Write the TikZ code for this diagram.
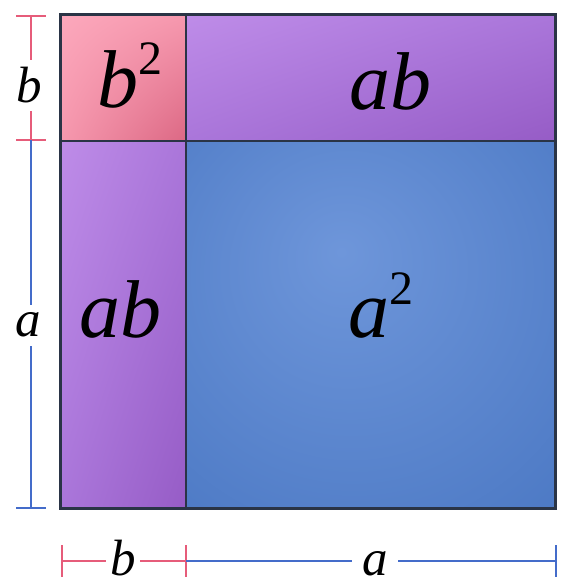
\documentclass[tikz,border=0pt]{standalone}
\usepackage{fontspec}
\setmainfont{Liberation Serif}
\usetikzlibrary{shadings}
\definecolor{pinkL}{RGB}{252,168,188}
\definecolor{pinkM}{RGB}{246,152,174}
\definecolor{pinkD}{RGB}{220,104,132}
\definecolor{purL}{RGB}{190,140,232}
\definecolor{purM}{RGB}{170,118,218}
\definecolor{purD}{RGB}{150,92,198}
\definecolor{bluC}{RGB}{110,150,218}
\definecolor{bluE}{RGB}{55,103,183}
\definecolor{edgec}{RGB}{42,52,70}
\definecolor{dimpink}{RGB}{230,92,122}
\definecolor{dimblue}{RGB}{68,108,202}
\pgfdeclareradialshading{bluerad}{\pgfpoint{-4bp}{10bp}}{color(0bp)=(bluC); color(66bp)=(bluE)}
\newcommand\supnum[1]{\raisebox{33pt}{\fontsize{48}{48}\selectfont\upshape #1}}
\begin{document}
\begin{tikzpicture}[x=1pt,y=1pt,
  inlbl/.style={inner sep=0pt, font=\fontsize{82}{82}\selectfont\itshape},
  dimlbl/.style={fill=white, font=\fontsize{51}{51}\selectfont\itshape},
  pinkline/.style={draw=dimpink, line width=1.6pt},
  blueline/.style={draw=dimblue, line width=1.6pt},
  divline/.style={draw=edgec, line width=1.8pt},
  outline/.style={draw=edgec, line width=3pt}]
\useasboundingbox (0,0) rectangle (571,586);
% regions
\shade[upper left=pinkL, upper right=pinkM, lower left=pinkM, lower right=pinkD] (60,445) rectangle (186,571);
\shade[upper left=purL, upper right=purM, lower left=purM, lower right=purD] (186,445) rectangle (555,571);
\shade[upper left=purL, upper right=purM, lower left=purM, lower right=purD] (60,77) rectangle (186,445);
\shade[shading=bluerad] (186,77) rectangle (555,445);
\draw[divline] (60,445) -- (555,445);
\draw[divline] (186,77) -- (186,571);
\draw[outline] (60,77) rectangle (555,571);
% inner labels
\node[inlbl, anchor=base west] (bsq) at (97,478) {b\supnum{2}};
\node[inlbl, anchor=base] (abtop) at (390,476) {ab};
\node[inlbl, anchor=base] (ableft) at (120,248) {ab};
\node[inlbl, anchor=base west] (asq) at (348,248) {a\supnum{2}};
% left dimension
\coordinate (L1) at (31,570);
\coordinate (L2) at (31,446);
\coordinate (L3) at (31,78);
\draw[pinkline] (L1) -- (L2);
\draw[pinkline] ([xshift=-15pt]L1) -- ([xshift=15pt]L1);
\draw[pinkline] ([xshift=-15pt]L2) -- ([xshift=15pt]L2);
\draw[blueline] (L2) -- (L3);
\draw[blueline] ([xshift=-15pt]L3) -- ([xshift=15pt]L3);
\node[dimlbl, anchor=base, inner xsep=2pt, inner ysep=8pt] (lb) at (29,483) {b};
\node[dimlbl, anchor=base, inner xsep=2pt, inner ysep=8pt] (la) at (28,249) {a};
% bottom dimension
\coordinate (B1) at (62,25);
\coordinate (B2) at (186,25);
\coordinate (B3) at (556,25);
\draw[pinkline] (B1) -- (B2);
\draw[pinkline] ([yshift=-16pt]B1) -- ([yshift=16pt]B1);
\draw[pinkline] ([yshift=-16pt]B2) -- ([yshift=16pt]B2);
\draw[blueline] (B2) -- (B3);
\draw[blueline] ([yshift=-16pt]B3) -- ([yshift=16pt]B3);
\node[dimlbl, anchor=base, inner xsep=4pt, inner ysep=1pt] (bb) at (123,10) {b};
\node[dimlbl, anchor=base, inner xsep=10pt, inner ysep=1pt] (ba) at (375,10) {a};
\end{tikzpicture}
\end{document}
